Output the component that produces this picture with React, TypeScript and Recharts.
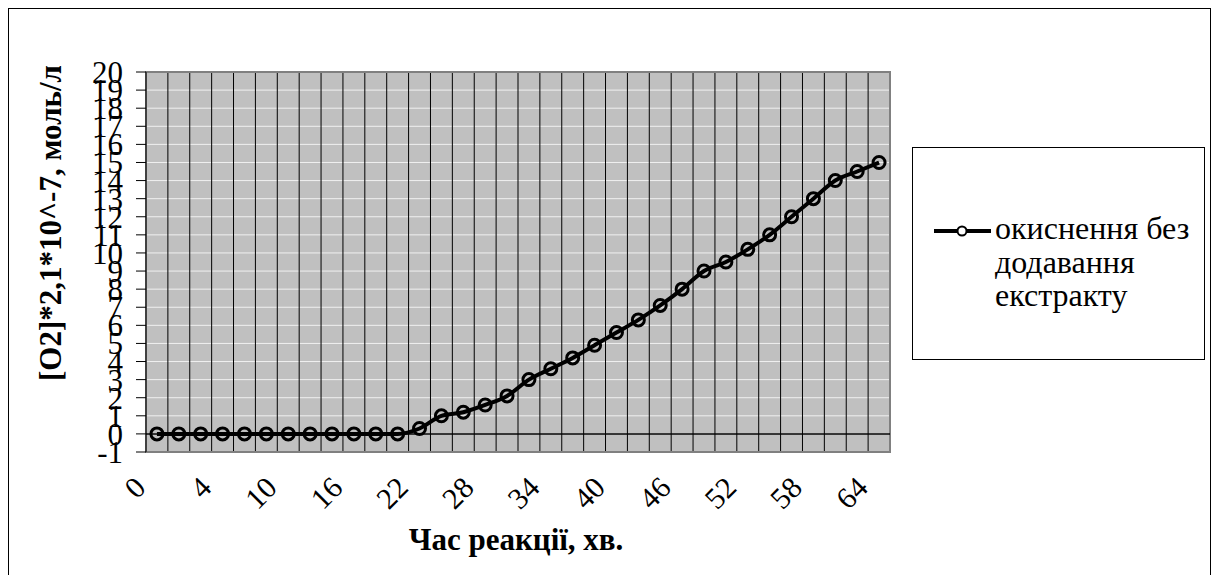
import React from 'react';
import {
  ComposedChart, Line, XAxis, YAxis, CartesianGrid, ReferenceLine, ReferenceArea,
} from 'recharts';

const FONT = '"Liberation Serif", "Times New Roman", serif';

// Час реакції, хв.
const times = [
  '0', '1', '2', '4', '6', '8', '10', '12', '14', '16', '18', '20', '22', '24', '26', '28', '30',
  '32', '34', '36', '38', '40', '42', '44', '46', '48', '50', '52', '54', '56', '58', '60', '62', '64',
];

// [O2]*2,1*10^-7, моль/л — окиснення без додавання екстракту
const o2Values = [
  0, 0, 0, 0, 0, 0, 0, 0, 0, 0, 0, 0,
  0.3, 1, 1.2, 1.6, 2.1, 3, 3.6, 4.2, 4.9, 5.6, 6.3, 7.1, 8, 9, 9.5, 10.2, 11, 12, 13, 14, 14.5, 15,
];

const yTicks = [-1, 0, 1, 2, 3, 4, 5, 6, 7, 8, 9, 10, 11, 12, 13, 14, 15, 16, 17, 18, 19, 20];

const seriesName = 'окиснення без додавання екстракту';
const legendLines = ['окиснення без', 'додавання', 'екстракту'];
const xTitle = 'Час реакції, хв.';
const yTitle = '[O2]*2,1*10^-7, моль/л';

const data = times.map((t, i) => ({ time: t, value: o2Values[i] }));

// vertical grid lines sit on the category boundaries, not the centres
function bandEdges({ xAxis, offset }: any): number[] {
  const sc = xAxis?.scale;
  const n = times.length;
  const fallback = () => times.slice(1).map((_, i) => offset.left + (offset.width * (i + 1)) / n);
  try {
    let apply: ((v: string) => number) | null = null;
    if (typeof sc === 'function') apply = sc;
    else if (sc && typeof sc.map === 'function') apply = (v: string) => sc.map(v);
    if (!apply) return fallback();
    const edges = times.slice(1).map(t => apply!(t));
    if (edges.some(e => typeof e !== 'number' || Number.isNaN(e))) return fallback();
    return edges;
  } catch (e) {
    return fallback();
  }
}

function TimeTick({ x, y, payload }: any) {
  return (
    <g transform={`translate(${x - 17},${y + 30})`}>
      <text
        transform="rotate(-45)"
        textAnchor="end"
        dy="0.35em"
        fontSize={30}
        fontFamily={FONT}
        fill="#000"
      >
        {payload.value}
      </text>
    </g>
  );
}

export default function App() {
  return (
    <div
      style={{
        position: 'relative',
        width: 1203,
        height: 580,
        border: '1px solid #000',
        boxSizing: 'border-box',
        background: '#fff',
        fontFamily: FONT,
      }}
    >
      <ComposedChart
        width={1201}
        height={566}
        data={data}
        margin={{ top: 63, right: 320, left: 57, bottom: 53 }}
      >
        <CartesianGrid fill="#c0c0c0" stroke="#f0f0f0" vertical={false} />
        <CartesianGrid
          stroke="#000"
          horizontal={false}
          verticalCoordinatesGenerator={bandEdges}
        />
        <ReferenceArea y1={-1} y2={20} fill="none" stroke="#808080" strokeWidth={2} />
        <XAxis
          dataKey="time"
          scale="band"
          interval={2}
          axisLine={false}
          tickLine={false}
          tickSize={0}
          tickMargin={0}
          height={70}
          tick={<TimeTick />}
        />
        <YAxis
          domain={[-1, 20]}
          ticks={yTicks}
          interval={0}
          width={80}
          axisLine={{ stroke: '#000' }}
          tickLine={{ stroke: '#000' }}
          tickSize={10}
          tickMargin={13}
          tick={{ fill: '#000', fontSize: 31, fontFamily: FONT }}
        />
        <ReferenceLine y={0} stroke="#000" strokeWidth={1.5} />
        <Line
          name={seriesName}
          type="monotone"
          dataKey="value"
          stroke="#000"
          strokeWidth={4}
          dot={{ r: 6, stroke: '#000', strokeWidth: 3, fill: 'none' }}
          isAnimationActive={false}
        />
      </ComposedChart>

      {/* axis titles */}
      <div
        style={{
          position: 'absolute',
          left: 42,
          top: 214,
          transform: 'translate(-50%, -50%) rotate(-90deg)',
          whiteSpace: 'nowrap',
          fontWeight: 'bold',
          fontSize: 31,
        }}
      >
        {yTitle}
      </div>
      <div
        style={{
          position: 'absolute',
          left: 507,
          top: 531,
          transform: 'translate(-50%, -50%)',
          whiteSpace: 'nowrap',
          fontWeight: 'bold',
          fontSize: 31,
        }}
      >
        {xTitle}
      </div>

      {/* legend */}
      <div
        style={{
          position: 'absolute',
          left: 903,
          top: 138,
          width: 293,
          height: 213,
          border: '1px solid #000',
          boxSizing: 'border-box',
        }}
      >
        <svg width={60} height={20} style={{ position: 'absolute', left: 20, top: 73 }}>
          <line x1={1} y1={10} x2={58} y2={10} stroke="#000" strokeWidth={4} />
          <circle cx={29} cy={10} r={4.5} stroke="#000" strokeWidth={2} fill="#fff" />
        </svg>
        <div
          style={{
            position: 'absolute',
            left: 82,
            top: 64,
            fontSize: 32,
            lineHeight: '33.5px',
            color: '#000',
          }}
        >
          {legendLines.map(l => (
            <div key={l}>{l}</div>
          ))}
        </div>
      </div>
    </div>
  );
}
